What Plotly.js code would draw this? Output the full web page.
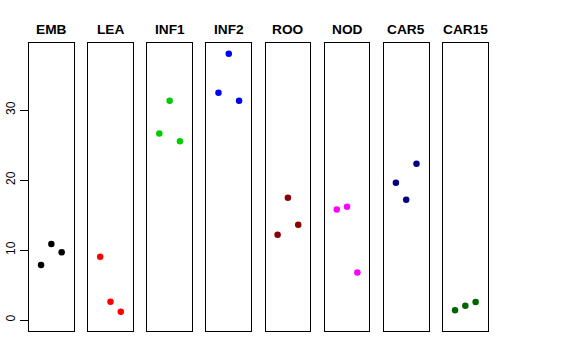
<!DOCTYPE html>
<html><head><meta charset="utf-8">
<script src="https://cdn.plot.ly/plotly-3.0.1.min.js"></script>
<style>html,body{margin:0;padding:0;background:#fff}#chart{width:576px;height:360px}</style>
</head><body><div id="chart"></div>
<script>
const groups = ["EMB","LEA","INF1","INF2","ROO","NOD","CAR5","CAR15"];
const colors = ["#000000","#FF0000","#00CD00","#0000FF","#8B0000","#FF00FF","#000080","#006400"];
const replicate = [1,2,3];
const EMB   = [7.86, 10.86, 9.67];
const LEA   = [9.05, 2.62, 1.19];
const INF1  = [26.67, 31.33, 25.57];
const INF2  = [32.48, 38.05, 31.33];
const ROO   = [12.19, 17.48, 13.62];
const NOD   = [15.81, 16.19, 6.81];
const CAR5  = [19.62, 17.19, 22.33];
const CAR15 = [1.38, 2.05, 2.57];
const values = [EMB, LEA, INF1, INF2, ROO, NOD, CAR5, CAR15];
const yTicks = [0,10,20,30];

const plotW = 459, step = 59.14, panelW = 44.7;
const yRange = [-1.57, 39.6];
const xRange = [-0.17, 4.17];
const traces = [], annotations = [];
const layout = {
  width:576, height:360,
  margin:{l:29, r:88, t:43, b:29},
  paper_bgcolor:"#fff", plot_bgcolor:"#fff",
  showlegend:false,
  font:{family:"Liberation Sans, Arial, sans-serif", color:"#000"},
  annotations:annotations
};
groups.forEach((g,i)=>{
  const n = i===0 ? "" : String(i+1);
  const d0 = i*step/plotW, d1 = (i*step+panelW)/plotW;
  layout["xaxis"+n] = {domain:[d0,d1], range:xRange, anchor:"y"+n, showgrid:false, zeroline:false,
    showticklabels:false, ticks:"", showline:true, mirror:true, linecolor:"#000", linewidth:1, fixedrange:true};
  const ya = {range:yRange, anchor:"x"+n, showgrid:false, zeroline:false, showline:true, mirror:true,
    linecolor:"#000", linewidth:1, fixedrange:true};
  if (i===0) {
    Object.assign(ya, {tickmode:"array", tickvals:yTicks, ticktext:yTicks.map(String), ticks:"outside",
      ticklen:8, tickwidth:1, tickcolor:"#000", tickangle:-90, tickfont:{size:12, color:"#000"}});
  } else {
    Object.assign(ya, {showticklabels:false, ticks:"", matches:"y"});
  }
  layout["yaxis"+n] = ya;
  traces.push({type:"scatter", mode:"markers", x:replicate, y:values[i], xaxis:"x"+n, yaxis:"y"+n,
    marker:{color:colors[i], size:6.5}, hoverinfo:"skip", cliponaxis:false});
  annotations.push({text:"<b>"+g+"</b>", xref:"x"+n+" domain", x:0.5, yref:"paper", y:1,
    yanchor:"middle", yshift:14, showarrow:false, font:{size:13.7, color:"#000"}});
});
Plotly.newPlot("chart", traces, layout, {staticPlot:true, displayModeBar:false});
</script></body></html>
